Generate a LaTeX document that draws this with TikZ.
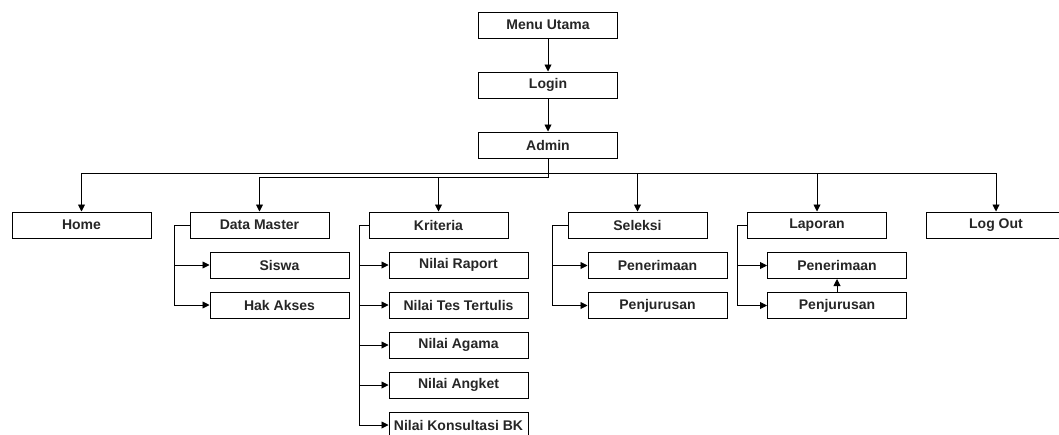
\documentclass[tikz,border=0pt]{standalone}
\usepackage{fontspec}
\setmainfont{Liberation Sans}
\usetikzlibrary{arrows.meta}
\begin{document}
\begin{tikzpicture}[x=1pt,y=-1pt,
  box/.style={draw=black,line width=1pt,rectangle,minimum width=139pt,minimum height=26pt,
    inner sep=0pt,font=\fontsize{14}{16}\selectfont\bfseries,text=black!85},
  arr/.style={draw=black,line width=0.9pt,-{Triangle[length=7pt,width=7pt]}}]
\clip (0,0) rectangle (1059,434);
\fill[white] (0,0) rectangle (1059,434);

% main chain
\node[box] (menu)  at (548,25)  {Menu Utama};
\node[box] (login) at (548,85)  {Login};
\node[box] (admin) at (548,145) {Admin};

% first level menu
\node[box] (home)   at (81.5,225)  {Home};
\node[box] (dm)     at (259.5,225) {Data Master};
\node[box] (kri)    at (438.5,225) {Kriteria};
\node[box] (sel)    at (637.5,225) {Seleksi};
\node[box] (lap)    at (817,225)   {Laporan};
\node[box] (logout) at (996,225)   {Log Out};

% Data Master items
\node[box] (siswa) at (279.5,265) {Siswa};
\node[box] (hak)   at (279.5,305) {Hak Akses};

% Kriteria items
\node[box] (raport) at (458.5,265) {Nilai Raport};
\node[box] (tes)    at (458.5,305) {Nilai Tes Tertulis};
\node[box] (agama)  at (458.5,345) {Nilai Agama};
\node[box] (angket) at (458.5,385) {Nilai Angket};
\node[box] (bk)     at (458.5,425) {Nilai Konsultasi BK};

% Seleksi items
\node[box] (spen)  at (657.5,265.5) {Penerimaan};
\node[box] (sjur)  at (657.5,305.5) {Penjurusan};

% Laporan items
\node[box] (lpen)  at (837,265.5) {Penerimaan};
\node[box] (ljur)  at (837,305.5) {Penjurusan};

% chain connectors
\draw[arr] (menu.south) -- (login.north);
\draw[arr] (login.south) -- (admin.north);

% admin to first level
\draw[arr] (admin.south) -- ++(0,15) -| (home.north);
\draw[arr] (admin.south) -- ++(0,19) -| (dm.north);
\draw[arr] (admin.south) -- ++(0,19) -| (kri.north);
\draw[arr] (admin.south) -- ++(0,15) -| (sel.north);
\draw[arr] (admin.south) -- ++(0,15) -| (lap.north);
\draw[arr] (admin.south) -- ++(0,15) -| (logout.north);

% sub items
\foreach \c in {siswa,hak}   {\draw[arr] (dm.west) -- ++(-15,0) |- (\c.west);}
\foreach \c in {raport,tes,agama,angket,bk} {\draw[arr] (kri.west) -- ++(-9,0) |- (\c.west);}
\foreach \c in {spen,sjur}   {\draw[arr] (sel.west) -- ++(-15,0) |- (\c.west);}
\foreach \c in {lpen,ljur}   {\draw[arr] (lap.west) -- ++(-10,0) |- (\c.west);}
\draw[arr] (ljur.north) -- (lpen.south);
\end{tikzpicture}
\end{document}
